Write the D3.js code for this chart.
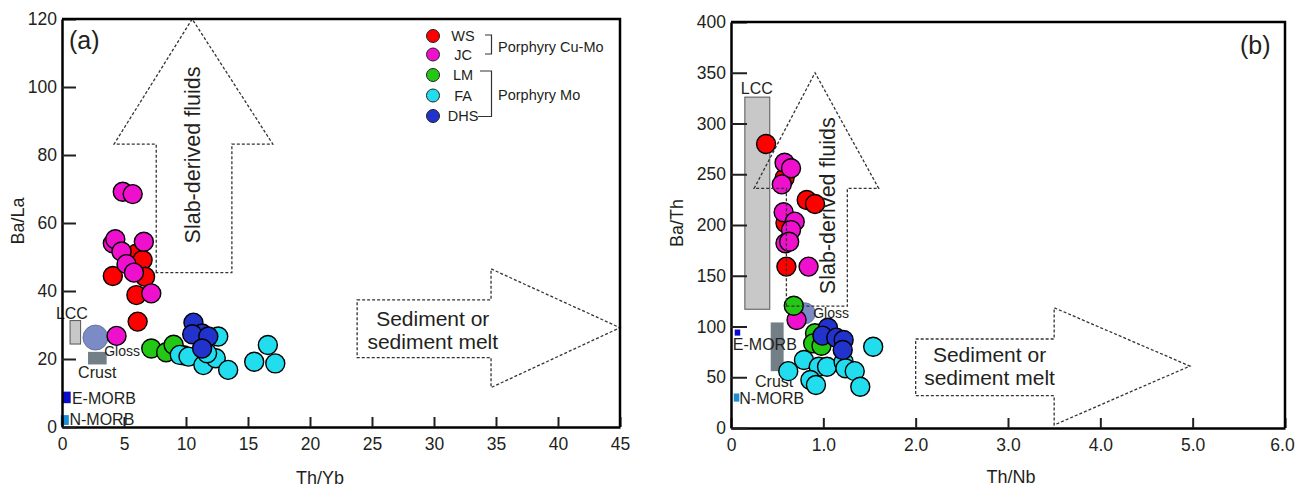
<!DOCTYPE html>
<html>
<head>
<meta charset="utf-8">
<script src="https://cdn.jsdelivr.net/npm/d3@7"></script>
<style>
  body { margin: 0; background: #fff; }
  svg text { font-family: "Liberation Sans", Arial, sans-serif; fill: #231f20; }
</style>
</head>
<body>
<div id="chart"></div>
<script>
// ---- data (a): Th/Yb vs Ba/La ----
var wsA  = [[6.0, 51.0], [6.5, 49.1], [6.7, 44.2], [4.1, 44.4], [6.0, 38.8], [6.1, 31.0]];
var jcA  = [[4.9, 69.2], [5.7, 68.5], [4.1, 54.0], [4.3, 55.2], [6.6, 54.5], [4.8, 51.6],
            [5.2, 47.9], [5.8, 45.4], [7.2, 39.3], [4.4, 26.8]];
var lmA  = [[7.2, 23.1], [8.4, 22.0], [9.0, 24.2], [9.8, 21.1]];
var faA  = [[9.5, 21.2], [10.2, 20.7], [12.6, 26.6], [11.4, 18.2], [12.4, 20.2], [13.4, 16.8],
            [11.7, 21.7], [16.6, 24.1], [15.5, 19.2], [17.2, 18.7]];
var dhsA = [[10.6, 30.7], [11.3, 27.5], [10.5, 27.3], [11.8, 26.6], [11.3, 23.1]];

// ---- data (b): Th/Nb vs Ba/Th ----
var wsB  = [[0.38, 279.8], [0.58, 246], [0.82, 224.6], [0.91, 220.7], [0.59, 202], [0.60, 159]];
var jcB  = [[0.58, 261.4], [0.65, 255.9], [0.55, 240], [0.57, 212.5], [0.69, 203.3], [0.65, 195],
            [0.59, 182], [0.63, 183.5], [0.84, 159], [0.71, 106.4]];
var lmB  = [[0.68, 120.5], [0.91, 93.3], [0.89, 83.4], [0.98, 81]];
var faB  = [[1.54, 80], [0.79, 67], [0.62, 56], [0.95, 60.4], [1.04, 60.4], [1.22, 65], [1.24, 58.8],
            [1.34, 56], [0.86, 47.3], [0.92, 42.4], [1.40, 40.7]];
var dhsB = [[1.05, 98.8], [0.99, 91], [1.14, 89], [1.22, 86.7], [1.21, 76.8]];

// reference fields [x0, x1, y0, y1]
var lccA = [0.65, 1.5, 24.4, 31.3], crustA = [2.1, 3.6, 18.4, 22.1];
var emorbA = [0, 0.7, 7, 10.4], nmorbA = [-0.1, 0.55, 0.6, 3.5], glossA = [2.7, 26.3];
var lccB = [0.15, 0.42, 117, 326], crustB = [0.43, 0.57, 56, 104];
var emorbB = [0.04, 0.10, 91, 97], nmorbB = [0.03, 0.09, 26, 34], glossB = [0.80, 113];

// arrow outlines (data units)
var slabA = [[7.6, 45.4], [7.6, 83.2], [4.2, 83.2], [10.5, 120], [17.0, 83.2], [13.7, 83.2], [13.7, 45.4]];
var sedA  = [[23.8, 37.4], [34.6, 37.4], [34.6, 46.5], [45, 29.2], [34.6, 11.6], [34.6, 20.4], [23.8, 20.4]];
var slabB = [[0.60, 120], [0.60, 236], [0.25, 236], [0.91, 350], [1.60, 236], [1.26, 236], [1.26, 120]];
var sedB  = [[2.0, 87.7], [3.5, 87.7], [3.5, 118.5], [4.97, 61], [3.5, 3], [3.5, 31.8], [2.0, 31.8]];

var xTicksA = [0, 5, 10, 15, 20, 25, 30, 35, 40, 45];
var yTicksA = [0, 20, 40, 60, 80, 100, 120];
var xTicksB = [0, 1, 2, 3, 4, 5, 6];
var yTicksB = [0, 50, 100, 150, 200, 250, 300, 350, 400];

var groups = ["WS", "JC", "LM", "FA", "DHS"];
var colors = {WS: "#ff0000", JC: "#ee10cc", LM: "#22c814", FA: "#22ddee", DHS: "#2233cc"};

var svg = d3.select("#chart").append("svg")
    .attr("width", 1296).attr("height", 489);

function panel(cfg) {
  var x = d3.scaleLinear().domain(cfg.xDomain).range([cfg.left, cfg.right]);
  var y = d3.scaleLinear().domain(cfg.yDomain).range([cfg.bottom, cfg.top]);
  var g = svg.append("g");

  // reference fields
  function rect(r, fill, stroke) {
    g.append("rect")
      .attr("x", x(r[0])).attr("y", y(r[3]))
      .attr("width", x(r[1]) - x(r[0])).attr("height", y(r[2]) - y(r[3]))
      .attr("fill", fill).attr("stroke", stroke || "none").attr("stroke-width", 1);
  }
  rect(cfg.lcc, "#c8c8c8", "#555");
  rect(cfg.crust, "#737f87");
  rect(cfg.emorb, "#0a0acd");
  rect(cfg.nmorb, "#1a8fd6");
  g.append("circle")
    .attr("cx", x(cfg.gloss[0])).attr("cy", y(cfg.gloss[1]))
    .attr("r", cfg.glossR).attr("fill", "#7b8bc5").attr("stroke", "#5a6690").attr("stroke-width", 0.8);

  // ref labels
  cfg.refLabels.forEach(function(l) {
    g.append("text")
      .attr("x", x(l[1])).attr("y", y(l[2]))
      .attr("dy", "0.35em")
      .attr("text-anchor", l[3] || "start")
      .style("font-size", (l[4] || 16) + "px")
      .text(l[0]);
  });

  // points
  var series = cfg.series;
  groups.forEach(function(k) {
    g.selectAll(null)
      .data(series[k])
      .enter().append("circle")
        .attr("cx", function(d) { return x(d[0]); })
        .attr("cy", function(d) { return y(d[1]); })
        .attr("r", 9.5)
        .attr("fill", colors[k])
        .attr("stroke", "#000")
        .attr("stroke-width", 1.4);
  });

  // arrows
  var line = d3.line().x(function(d) { return x(d[0]); }).y(function(d) { return y(d[1]); });
  [cfg.slab, cfg.sed].forEach(function(a) {
    g.append("path")
      .attr("d", line(a) + "Z")
      .attr("fill", "none")
      .attr("stroke", "#333")
      .attr("stroke-width", 1.3)
      .attr("stroke-dasharray", "3,2");
  });
  g.append("text")
    .attr("transform", "translate(" + x(cfg.slabText[0]) + "," + y(cfg.slabText[1]) + ") rotate(-90)")
    .attr("text-anchor", "middle").attr("dy", "0.35em")
    .style("font-size", "21.5px")
    .text("Slab-derived fluids");
  g.append("text")
    .attr("x", x(cfg.sedText[0])).attr("y", y(cfg.sedText[1]))
    .attr("text-anchor", "middle").attr("dy", "0.35em")
    .style("font-size", "21px")
    .text("Sediment or");
  g.append("text")
    .attr("x", x(cfg.sedText[0])).attr("y", y(cfg.sedText[2]))
    .attr("text-anchor", "middle").attr("dy", "0.35em")
    .style("font-size", "21px")
    .text("sediment melt");

  // axes
  var xa = g.append("g")
    .attr("transform", "translate(0," + cfg.bottom + ")")
    .call(d3.axisBottom(x).tickValues(cfg.xTicks).tickSizeInner(-10).tickSizeOuter(0)
      .tickPadding(7).tickFormat(cfg.xFmt));
  var ya = g.append("g")
    .attr("transform", "translate(" + cfg.left + ",0)")
    .call(d3.axisLeft(y).tickValues(cfg.yTicks).tickSizeInner(-cfg.yTick).tickSizeOuter(0)
      .tickPadding(5).tickFormat(d3.format("d")));
  [xa, ya].forEach(function(a) {
    a.select(".domain").attr("stroke", "#000").attr("stroke-width", 2.5);
    a.selectAll(".tick line").attr("stroke", "#231f20").attr("stroke-width", 2);
    a.selectAll(".tick text").style("font-size", "17.5px").attr("fill", "#2b2b2b")
      .style("font-family", "'Liberation Sans', Arial, sans-serif");
  });
  xa.selectAll(".tick text").attr("dy", "0.9em");
  // keep the last x label inside the page
  xa.selectAll(".tick text").filter(function(d, i, n) { return i === n.length - 1; })
    .attr("dx", cfg.lastDx || 0);

  // frame top / right
  g.append("path")
    .attr("d", "M" + cfg.left + "," + cfg.top + "H" + cfg.right + "V" + cfg.bottom)
    .attr("fill", "none").attr("stroke", "#000").attr("stroke-width", 2.5);

  // axis titles
  g.append("text")
    .attr("x", cfg.xTitle[1]).attr("y", cfg.xTitle[2])
    .attr("text-anchor", "middle").attr("dy", "0.35em")
    .style("font-size", "18px").text(cfg.xTitle[0]);
  g.append("text")
    .attr("transform", "translate(" + cfg.yTitle[1] + "," + cfg.yTitle[2] + ") rotate(-90)")
    .attr("text-anchor", "middle").attr("dy", "0.35em")
    .style("font-size", "18px").text(cfg.yTitle[0]);

  g.append("text")
    .attr("x", cfg.tag[1]).attr("y", cfg.tag[2])
    .attr("dy", "0.35em")
    .style("font-size", "25px").text(cfg.tag[0]);
  return g;
}

panel({
  left: 62, right: 620, top: 19, bottom: 427,
  xDomain: [0, 45], yDomain: [0, 120],
  xTicks: xTicksA, yTicks: yTicksA, yTick: 14,
  xFmt: d3.format("d"),
  lcc: lccA, crust: crustA, emorb: emorbA, nmorb: nmorbA, gloss: glossA, glossR: 12.5,
  refLabels: [["LCC", 0.8, 33.5, "middle", 16], ["Gloss", 3.4, 22.4, "start", 14],
              ["Crust", 1.3, 16, "start", 16], ["E-MORB", 0.8, 8.4, "start", 16],
              ["N-MORB", 0.6, 2.1, "start", 16]],
  series: {WS: wsA, JC: jcA, LM: lmA, FA: faA, DHS: dhsA},
  slab: slabA, sed: sedA,
  slabText: [10.55, 80], sedText: [29.9, 32, 25],
  xTitle: ["Th/Yb", 320, 478], yTitle: ["Ba/La", 18, 221],
  tag: ["(a)", 69, 40]
});

panel({
  left: 731, right: 1285, top: 22, bottom: 428,
  xDomain: [0, 6], yDomain: [0, 400],
  xTicks: xTicksB, yTicks: yTicksB, yTick: 16,
  xFmt: function(d) { return d === 0 ? "0" : d.toFixed(1); },
  lastDx: -3,
  lcc: lccB, crust: crustB, emorb: emorbB, nmorb: nmorbB, gloss: glossB, glossR: 10.5,
  refLabels: [["LCC", 0.28, 335, "middle", 16], ["Gloss", 0.89, 113, "start", 14],
              ["Crust", 0.26, 46, "start", 16], ["E-MORB", 0.02, 82, "start", 16],
              ["N-MORB", 0.09, 29.5, "start", 16]],
  series: {WS: wsB, JC: jcB, LM: lmB, FA: faB, DHS: dhsB},
  slab: slabB, sed: sedB,
  slabText: [1.05, 219], sedText: [2.8, 72, 50],
  xTitle: ["Th/Nb", 1011, 477], yTitle: ["Ba/Th", 677, 223],
  tag: ["(b)", 1240, 45]
});

// legend (panel a)
var leg = svg.append("g");
var legY = [36, 54.5, 75, 95.5, 116];
groups.forEach(function(k, i) {
  leg.append("circle").attr("cx", 433).attr("cy", legY[i]).attr("r", 6.5)
    .attr("fill", colors[k]).attr("stroke", "#222").attr("stroke-width", 1);
  leg.append("text").attr("x", 463).attr("y", legY[i]).attr("dy", "0.35em")
    .attr("text-anchor", "middle").style("font-size", "14.5px").text(k);
});
leg.append("path").attr("d", "M485,35H491.5V54H485")
  .attr("fill", "none").attr("stroke", "#333").attr("stroke-width", 1.2);
leg.append("path").attr("d", "M480,71H491.5V116.5H478")
  .attr("fill", "none").attr("stroke", "#333").attr("stroke-width", 1.2);
leg.append("text").attr("x", 498).attr("y", 47).attr("dy", "0.35em")
  .style("font-size", "14.5px").text("Porphyry Cu-Mo");
leg.append("text").attr("x", 498).attr("y", 94.5).attr("dy", "0.35em")
  .style("font-size", "14.5px").text("Porphyry Mo");
</script>
</body>
</html>
